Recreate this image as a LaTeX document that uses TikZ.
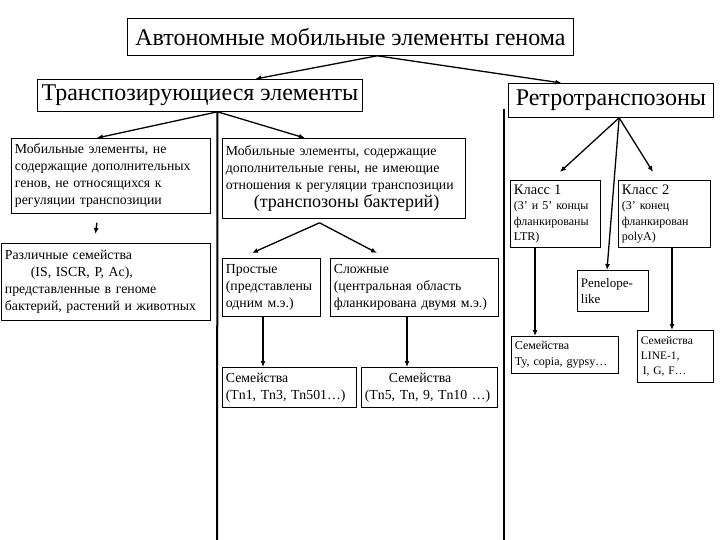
\documentclass[tikz,border=0pt]{standalone}
\usepackage{fontspec}
\setmainfont{Liberation Serif}
\usetikzlibrary{arrows.meta,calc}
\begin{document}
\begin{tikzpicture}[x=1pt,y=-1pt,
  box/.style={draw, line width=0.8pt, anchor=north west, inner xsep=3.5pt, inner ysep=2pt, align=left},
  big/.style={font=\fontsize{24}{26}\selectfont, align=center},
  small/.style={font=\fontsize{13.8}{17}\selectfont},
  tiny/.style={font=\fontsize{12}{15.5}\selectfont},
  arr/.style={line width=1.3pt, -{Latex[length=6pt,width=5pt]}},
  bar/.style={line width=2pt}]
\useasboundingbox (0,0) rectangle (720,540);
% top level
\node[box,big,minimum width=446pt,minimum height=37pt] (title) at (127,18) {Автономные мобильные элементы генома};
\node[box,big,minimum width=325pt,minimum height=32pt] (trans) at (37,79) {Транспозирующиеся элементы};
\node[box,big,minimum width=205pt,minimum height=34pt] (retro) at (508,83) {Ретротранспозоны};
% left column
\node[box,small,minimum width=199pt,minimum height=75pt,text width=192pt] (A) at (11,138)
  {Мобильные элементы, не\\содержащие дополнительных\\генов, не относящихся к\\регуляции транспозиции};
\node[box,small,minimum width=209pt,minimum height=77pt,text width=202pt] (C) at (1,243)
  {Различные семейства\\\hspace*{26pt}(IS, ISCR, P, Ac),\\представленные в геноме\\бактерий, растений и животных};
% middle column
\node[box,small,minimum width=243pt,minimum height=80pt,text width=236pt] (B) at (222,138)
  {Мобильные элементы, содержащие\\дополнительные гены, не имеющие\\отношения к регуляции транспозиции\\[1pt]\hspace*{28pt}{\fontsize{18}{20}\selectfont (транспозоны бактерий)}};
\node[box,small,minimum width=98pt,minimum height=58pt,text width=91pt] (D) at (222,258)
  {Простые\\(представлены\\одним м.э.)};
\node[box,small,minimum width=168pt,minimum height=58pt,text width=161pt] (E) at (330,258)
  {Сложные\\(центральная область\\фланкирована двумя м.э.)};
\node[box,small,minimum width=134pt,minimum height=40pt,text width=127pt] (F) at (222,367)
  {Семейства\\(Tn1, Tn3, Tn501…)};
\node[box,small,minimum width=136pt,minimum height=40pt,text width=129pt] (G) at (361,367)
  {\hspace*{24pt}Семейства\\(Tn5, Tn, 9, Tn10 …)};
% right column
\node[box,tiny,minimum width=90pt,minimum height=67pt,text width=83pt] (K1) at (510,180)
  {{\fontsize{14.5}{16}\selectfont Класс 1}\\(3’ и 5’ концы\\фланкированы\\LTR)};
\node[box,tiny,minimum width=92pt,minimum height=67pt,text width=85pt] (K2) at (618,180)
  {{\fontsize{14.5}{16}\selectfont Класс 2}\\(3’ конец\\фланкирован\\polyA)};
\node[box,font=\fontsize{13}{16}\selectfont,minimum width=71pt,minimum height=41pt,text width=64pt] (P) at (577,270)
  {Penelope-\\like};
\node[box,tiny,minimum width=107pt,minimum height=37pt,text width=100pt] (Ty) at (511,336)
  {Семейства\\Ty, copia, gypsy…};
\node[box,font=\fontsize{11.5}{15}\selectfont,minimum width=76pt,minimum height=52pt,text width=69pt] (L) at (637,330)
  {Семейства\\LINE-1,\\\hspace*{2pt}I, G, F…};
% coordinates
\coordinate (tA) at ($(title.south west)!0.56!(title.south east)$);
\coordinate (trA) at ($(trans.south west)!0.554!(trans.south east)$);
\coordinate (leftEnd) at (217,540);
\coordinate (rTop) at (504,109);
\coordinate (rEnd) at (504,540);
\coordinate (bA) at ($(B.south west)!0.4!(B.south east)+(0,4)$);
\coordinate (rA) at ($(retro.south west)!0.54!(retro.south east)$);
% connectors
\draw[arr] (tA) -- ($(trans.north west)!0.67!(trans.north east)$);
\draw[arr] (tA) -- ($(retro.north west)!0.26!(retro.north east)$);
\draw[arr] (trA) -- ($(A.north west)!0.43!(A.north east)$);
\draw[arr] (trA) -- ($(B.north west)!0.34!(B.north east)$);
\draw[bar] (trA) -- (leftEnd);
\draw[bar] (rTop) -- (rEnd);
\draw[arr] ($(A.south west)!0.43!(A.south east)+(0,9)$) -- ($(C.north west)!0.45!(C.north east)+(0,-9)$);
\draw[arr] (bA) -- ($(D.north west)+(30,-5)$);
\draw[arr] (bA) -- ($(E.north west)+(47,-5)$);
\draw[arr] ($(D.south west)+(41,0)$) -- ($(F.north west)+(41,0)$);
\draw[arr] ($(E.south west)+(77,0)$) -- ($(G.north west)+(46,0)$);
\draw[arr] (rA) -- ($(K1.north west)+(50,-8)$);
\draw[arr] (rA) -- ($(K2.north west)+(35,-8)$);
\draw[arr] (rA) -- ($(P.north west)+(30,0)$);
\draw[arr] ($(K1.south west)+(25,0)$) -- ($(Ty.north west)+(24,0)$);
\draw[arr] ($(K2.south west)+(54,0)$) -- ($(L.north west)+(35,0)$);
\end{tikzpicture}
\end{document}
